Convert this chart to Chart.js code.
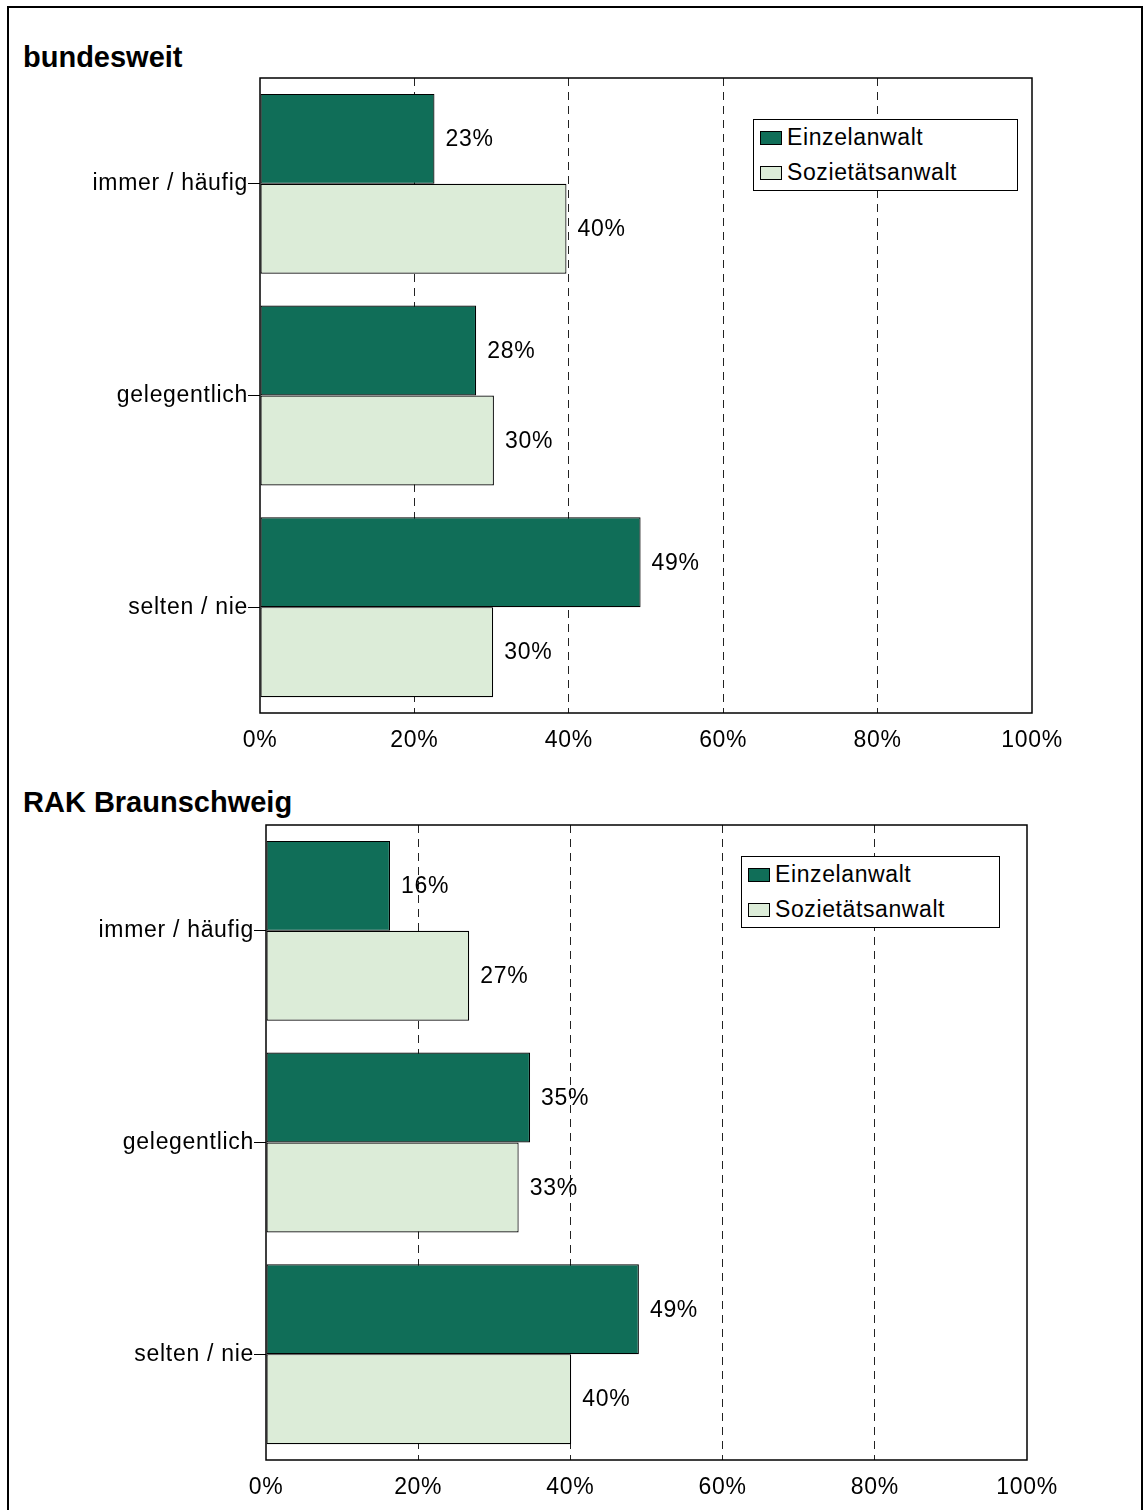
<!DOCTYPE html>
<html>
<head>
<meta charset="utf-8">
<script src="https://cdn.jsdelivr.net/npm/chart.js@4.4.1/dist/chart.umd.min.js"></script>
<style>
  html, body { margin: 0; padding: 0; background: #fff; overflow: hidden; }
  #page { position: relative; width: 1148px; height: 1510px; font-family: "Liberation Sans", Arial, sans-serif; color: #000; }
  .frame { position: absolute; left: 7px; top: 6px; width: 1132px; height: 1530px; border: 2px solid #000; border-bottom: none; }
  .title { position: absolute; left: 23px; font-weight: bold; font-size: 29px; line-height: 30px; }
  canvas { position: absolute; left: 0; }
  .legend { position: absolute; border: 1px solid #000; background: #fff; font-size: 23px; letter-spacing: 0.6px; }
  .legend .row { height: 35px; line-height: 35px; display: flex; align-items: center; }
  .legend .sw { width: 20px; height: 12px; border: 1px solid #000; margin: 0 5px 0 6px; }
</style>
</head>
<body>
<div id="page">
  <div class="frame"></div>
  <div class="title" style="top:42px">bundesweit</div>
  <canvas id="chartBund" width="1148" height="740" style="top:40px"></canvas>
  <div class="legend" id="legendBund" style="left:753px; top:119px; width:263px;"></div>

  <div class="title" style="top:787px">RAK Braunschweig</div>
  <canvas id="chartBs" width="1148" height="710" style="top:800px"></canvas>
  <div class="legend" id="legendBs" style="left:741px; top:856px; width:257px;"></div>
</div>
<script>
const categories = ["immer / häufig", "gelegentlich", "selten / nie"];
const seriesNames = ["Einzelanwalt", "Sozietätsanwalt"];
const seriesColors = ["#106e58", "#dcecd8"];

// shares in percent
const bundEinzel = [22.6, 28.0, 49.3];
const bundSozietaet = [39.7, 30.3, 30.2];
const bsEinzel = [16.3, 34.7, 49.0];
const bsSozietaet = [26.7, 33.2, 40.1];

const xTicks = [0, 20, 40, 60, 80, 100];

Chart.defaults.font.family = '"Liberation Sans", Arial, sans-serif';
Chart.defaults.font.size = 23;
Chart.defaults.color = "#000";

// the original text is set slightly wider than canvas default
const spacing = {
  id: "spacing",
  beforeInit(chart) { chart.ctx.letterSpacing = "0.7px"; },
  beforeUpdate(chart) { chart.ctx.letterSpacing = "0.7px"; },
  beforeDraw(chart) { chart.ctx.letterSpacing = "0.7px"; }
};

const valueLabels = {
  id: "valueLabels",
  afterDatasetsDraw(chart) {
    const ctx = chart.ctx;
    ctx.save();
    ctx.font = '23px "Liberation Sans", Arial, sans-serif';
    ctx.fillStyle = "#000";
    ctx.textBaseline = "middle";
    chart.data.datasets.forEach((ds, i) => {
      chart.getDatasetMeta(i).data.forEach((bar, j) => {
        ctx.fillText(Math.round(ds.data[j]) + "%", bar.x + 11, bar.y + 1);
      });
    });
    ctx.restore();
  }
};

const plotFrame = {
  id: "plotFrame",
  afterDraw(chart) {
    const { ctx, chartArea: a } = chart;
    ctx.save();
    ctx.setLineDash([]);
    ctx.strokeStyle = "#000";
    ctx.lineWidth = 1.5;
    ctx.strokeRect(a.left, a.top, a.right - a.left, a.bottom - a.top);
    ctx.restore();
  }
};

function makeChart(id, einzel, sozietaet, pad, axisWidth, axisHeight) {
  return new Chart(document.getElementById(id), {
    type: "bar",
    data: {
      labels: categories,
      datasets: [
        { label: seriesNames[0], data: einzel, backgroundColor: seriesColors[0] },
        { label: seriesNames[1], data: sozietaet, backgroundColor: seriesColors[1] }
      ]
    },
    options: {
      indexAxis: "y",
      responsive: false,
      animation: false,
      layout: { padding: pad },
      datasets: {
        bar: { categoryPercentage: 0.85, barPercentage: 1.0, borderColor: "#000", borderWidth: 1.2, borderSkipped: false }
      },
      plugins: { legend: { display: false }, tooltip: { enabled: false } },
      scales: {
        x: {
          min: 0, max: 100,
          afterBuildTicks: s => { s.ticks = xTicks.map(v => ({ value: v })); },
          afterFit: s => { s.height = axisHeight; },
          ticks: { callback: v => v + "%", padding: 14, maxRotation: 0 },
          grid: {
            drawTicks: false,
            color: c => (c.tick && (c.tick.value === 0 || c.tick.value === 100)) ? "rgba(0,0,0,0)" : "#222",
            lineWidth: 1
          },
          border: { display: false, dash: [8, 6] }
        },
        y: {
          afterFit: s => { s.width = axisWidth; },
          ticks: { padding: 0 },
          grid: { offset: false, drawOnChartArea: false, drawTicks: true, tickLength: 12, color: "#000", lineWidth: 1 },
          border: { display: false }
        }
      }
    },
    plugins: [spacing, valueLabels, plotFrame]
  });
}

function fillLegend(id) {
  document.getElementById(id).innerHTML = seriesNames.map((n, i) =>
    `<div class="row"><span class="sw" style="background:${seriesColors[i]}"></span>${n}</div>`).join("");
}

makeChart("chartBund", bundEinzel, bundSozietaet, { top: 38, right: 116, left: 0, bottom: 0 }, 260, 67);
makeChart("chartBs", bsEinzel, bsSozietaet, { top: 25, right: 121, left: 0, bottom: 0 }, 266, 50);
fillLegend("legendBund");
fillLegend("legendBs");
</script>
</body>
</html>
